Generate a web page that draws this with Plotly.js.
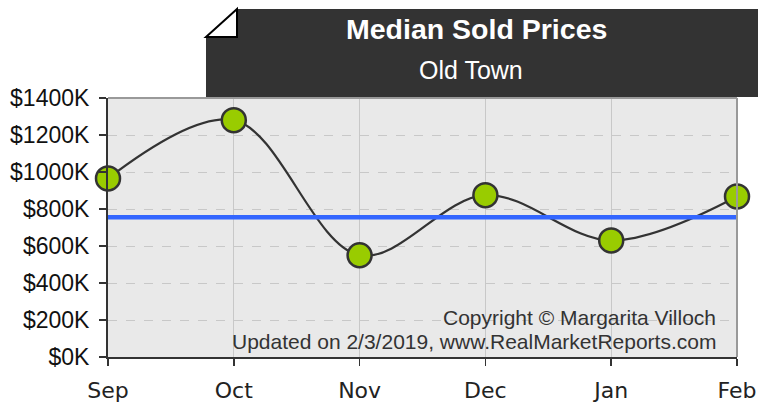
<!DOCTYPE html>
<html>
<head>
<meta charset="utf-8">
<script src="https://cdn.plot.ly/plotly-3.0.1.min.js"></script>
<style>html,body{margin:0;padding:0;background:#fff;}#chart{width:758px;height:404px;}</style>
</head>
<body>
<div id="chart"></div>
<script>
// ---- data ----
var months = ["Sep", "Oct", "Nov", "Dec", "Jan", "Feb"];
var medianPrices = [965, 1280, 550, 875, 630, 868];   // $K
var referencePrice = 755;                              // $K (blue line)
var yTickVals = [0, 200, 400, 600, 800, 1000, 1200, 1400];
var yTickText = ["$0K", "$200K", "$400K", "$600K", "$800K", "$1000K", "$1200K", "$1400K"];
var titleText = "Median Sold Prices";
var subtitleText = "Old Town";
var copyrightLines = ["Copyright © Margarita Villoch", "Updated on 2/3/2019, www.RealMarketReports.com"];

// ---- geometry helpers (pixel -> paper) ----
var W = 758, H = 404, mL = 108, mR = 21, mT = 98, mB = 47;
var pw = W - mL - mR, ph = H - mT - mB;
function px(x) { return (x - mL) / pw; }
function py(y) { return (H - mB - y) / ph; }
function P(x, y) { return px(x).toFixed(5) + "," + py(y).toFixed(5); }

var traces = [
  {
    x: months, y: medianPrices,
    type: "scatter", mode: "lines+markers",
    line: { color: "#333333", width: 2.2, shape: "spline", smoothing: 1 },
    marker: { size: 24, color: "#99cc00", line: { color: "#333333", width: 2.5 } },
    cliponaxis: false
  },
  {
    x: [months[0], months[months.length - 1]],
    y: [referencePrice, referencePrice],
    type: "scatter", mode: "lines",
    line: { color: "#3366ff", width: 4.5 },
    hoverinfo: "skip", cliponaxis: false
  }
];

var layout = {
  width: W, height: H,
  margin: { l: mL, r: mR, t: mT, b: mB, pad: 0 },
  paper_bgcolor: "#ffffff",
  plot_bgcolor: "#e9e9e9",
  showlegend: false,
  font: { family: "Liberation Sans, Arial, sans-serif", color: "#111" },
  xaxis: {
    type: "category",
    categoryorder: "array", categoryarray: months,
    range: [0, months.length - 1],
    showgrid: true, gridcolor: "#c8c8c8", gridwidth: 1,
    ticks: "outside", ticklen: 7, tickwidth: 1.5, tickcolor: "#333",
    showline: true, linecolor: "#333", linewidth: 2,
    ticklabelstandoff: 6,
    tickfont: { family: "DejaVu Sans, sans-serif", size: 22, color: "#222" },
    zeroline: false, fixedrange: true
  },
  yaxis: {
    range: [0, 1400],
    tickvals: yTickVals, ticktext: yTickText,
    showgrid: true, gridcolor: "#c8c8c8", gridwidth: 1, griddash: "dash",
    ticks: "outside", ticklen: 7, tickwidth: 1.5, tickcolor: "#333",
    showline: true, linecolor: "#333", linewidth: 2,
    ticklabelstandoff: 5,
    tickfont: { family: "Liberation Sans, Arial, sans-serif", size: 23, color: "#111" },
    zeroline: false, fixedrange: true
  },
  shapes: [
    { type: "line", xref: "paper", yref: "paper", x0: 1, x1: 1, y0: 0, y1: 1, line: { color: "#999", width: 2 } },
    { type: "line", xref: "paper", yref: "paper", x0: 0, x1: 1, y0: 1, y1: 1, line: { color: "#999", width: 2 } },
    { type: "path", xref: "paper", yref: "paper", layer: "above",
      path: "M" + P(206, 37) + " L" + P(237, 9) + " L" + P(770, 9) + " L" + P(770, 97) + " L" + P(206, 97) + " Z",
      fillcolor: "#333333", line: { width: 0 } },
    { type: "path", xref: "paper", yref: "paper", layer: "above",
      path: "M" + P(206, 37) + " L" + P(237, 9) + " L" + P(237, 37) + " Z",
      fillcolor: "#ffffff", line: { color: "#000", width: 2 } }
  ],
  annotations: [
    { xref: "paper", yref: "paper", x: px(476), y: py(29), xanchor: "center", yanchor: "middle",
      text: "<b>" + titleText + "</b>", showarrow: false,
      font: { family: "Liberation Sans, Arial, sans-serif", size: 28.5, color: "#ffffff" } },
    { xref: "paper", yref: "paper", x: px(471), y: py(70), xanchor: "center", yanchor: "middle",
      text: subtitleText, showarrow: false,
      font: { family: "Liberation Sans, Arial, sans-serif", size: 25, color: "#ffffff" } },
    { xref: "paper", yref: "paper", x: px(718), y: py(317), xanchor: "right", yanchor: "middle",
      text: copyrightLines[0], showarrow: false,
      font: { family: "Liberation Sans, Arial, sans-serif", size: 21, color: "#333" } },
    { xref: "paper", yref: "paper", x: px(718), y: py(341), xanchor: "right", yanchor: "middle",
      text: copyrightLines[1], showarrow: false,
      font: { family: "Liberation Sans, Arial, sans-serif", size: 21, color: "#333" } }
  ]
};

Plotly.newPlot("chart", traces, layout, { displayModeBar: false, staticPlot: true });
</script>
</body>
</html>
